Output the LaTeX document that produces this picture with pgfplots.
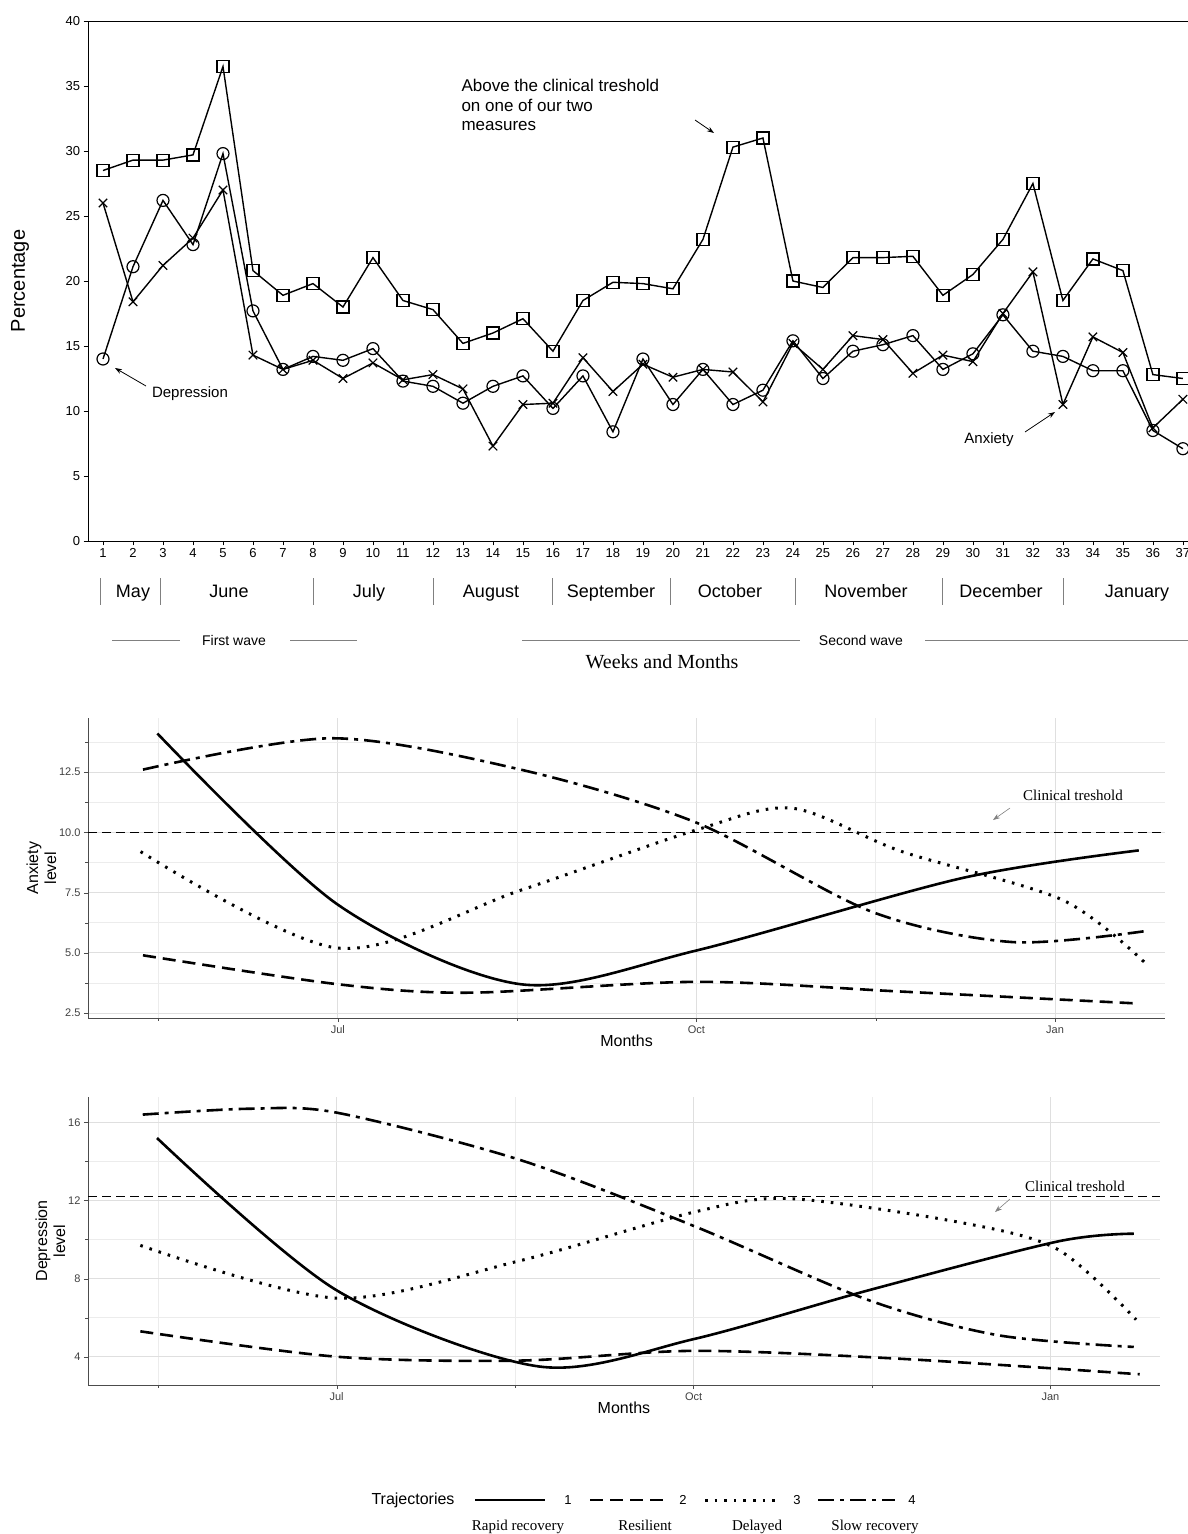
\documentclass[border=0pt]{standalone}
\usepackage{pgfplots}
\pgfplotsset{compat=1.18}
\usepackage{fontspec}
\setmainfont{Liberation Sans}
\newfontfamily\serif{Liberation Serif}
\usetikzlibrary{arrows.meta}
\tikzset{
 sol/.style={line width=2.6pt},
 dsh/.style={line width=2.6pt,dash pattern=on 13pt off 7pt},
 dot/.style={line width=3pt,dash pattern=on 2.6pt off 7pt},
 dsd/.style={line width=2.6pt,dash pattern=on 16pt off 6pt on 4pt off 6pt},
 arr/.style={-{Stealth[length=7pt,width=5pt]},line width=0.8pt}
}
\begin{document}
\begin{tikzpicture}
\useasboundingbox (0,0) rectangle (1188pt,-1534pt);
% ---------- top panel
\begin{axis}[at={(88pt,-541pt)},anchor=south west,scale only axis,width=1100pt,height=520pt,
 xmin=0.5,xmax=37.17,ymin=0,ymax=40,xtick={1,...,37},ytick={0,5,...,40},
 tick label style={font=\fontsize{13}{15}\selectfont},
 /pgf/number format/assume math mode=true,
 axis line style={line width=0.8pt},tick style={black,line width=0.6pt},
 tick align=outside,xtick pos=bottom,ytick pos=left]
\addplot[black,line width=1.4pt,mark=square,mark size=6pt,mark options={line width=1.2pt}] coordinates {
(1,28.5)(2,29.3)(3,29.3)(4,29.7)(5,36.5)(6,20.8)(7,18.9)(8,19.8)(9,18)(10,21.8)(11,18.5)(12,17.8)(13,15.2)(14,16)(15,17.1)(16,14.6)(17,18.5)(18,19.9)(19,19.8)(20,19.4)(21,23.2)(22,30.3)(23,31)(24,20)(25,19.5)(26,21.8)(27,21.8)(28,21.9)(29,18.9)(30,20.5)(31,23.2)(32,27.5)(33,18.5)(34,21.7)(35,20.8)(36,12.8)(37,12.5)};
\addplot[black,line width=1.4pt,mark=o,mark size=6pt,mark options={line width=1.2pt}] coordinates {
(1,14)(2,21.1)(3,26.2)(4,22.8)(5,29.8)(6,17.7)(7,13.2)(8,14.2)(9,13.9)(10,14.8)(11,12.3)(12,11.9)(13,10.6)(14,11.9)(15,12.7)(16,10.2)(17,12.7)(18,8.4)(19,14)(20,10.5)(21,13.2)(22,10.5)(23,11.6)(24,15.4)(25,12.5)(26,14.6)(27,15.1)(28,15.8)(29,13.2)(30,14.4)(31,17.4)(32,14.6)(33,14.2)(34,13.1)(35,13.1)(36,8.5)(37,7.1)};
\addplot[black,line width=1.4pt,mark=x,mark size=6pt,mark options={line width=1.2pt}] coordinates {
(1,26)(2,18.4)(3,21.2)(4,23.3)(5,27)(6,14.3)(7,13.2)(8,13.9)(9,12.5)(10,13.7)(11,12.4)(12,12.8)(13,11.7)(14,7.3)(15,10.5)(16,10.6)(17,14.1)(18,11.5)(19,13.6)(20,12.6)(21,13.2)(22,13)(23,10.7)(24,15.2)(25,13.2)(26,15.8)(27,15.5)(28,12.9)(29,14.3)(30,13.8)(31,17.5)(32,20.7)(33,10.5)(34,15.7)(35,14.5)(36,8.7)(37,10.9)};
\end{axis}
\node[rotate=90,font=\fontsize{20}{22}\selectfont] at (20pt,-281pt) {Percentage};
\node[anchor=north west,align=left,font=\fontsize{17}{19.5}\selectfont] at (458pt,-76pt) {Above the clinical treshold\\on one of our two\\measures};
\draw[arr] (695pt,-120pt) -- (714pt,-133pt);
\node[font=\fontsize{15}{17}\selectfont] at (190pt,-394pt) {Depression};
\draw[arr] (146pt,-386pt) -- (115pt,-368pt);
\node[font=\fontsize{15}{17}\selectfont] at (989pt,-440pt) {Anxiety};
\draw[arr] (1025pt,-432pt) -- (1055pt,-412pt);
\foreach \x/\m in {133/May,229/June,369/July,491/August,611/September,730/October,866/November,1001/December,1137/January}
  \node[anchor=base,font=\fontsize{18}{20}\selectfont] at (\x pt,-597pt) {\m};
\foreach \x in {100,160,313,433,552,670,795,942,1063}
  \draw[gray,line width=0.6pt] (\x pt,-578pt) -- (\x pt,-605pt);
\node[anchor=base,font=\fontsize{14}{16}\selectfont] at (234pt,-645pt) {First wave};
\draw[gray,line width=0.5pt] (112pt,-640pt) -- (180pt,-640pt) (290pt,-640pt) -- (357pt,-640pt);
\node[anchor=base,font=\fontsize{14}{16}\selectfont] at (861pt,-645pt) {Second wave};
\draw[gray,line width=0.5pt] (522pt,-640pt) -- (800pt,-640pt) (925pt,-640pt) -- (1188pt,-640pt);
\node[font=\serif\fontsize{20}{22}\selectfont] at (662pt,-662pt) {Weeks and Months};
% ---------- lower panels
\pgfplotsset{traj/.style={scale only axis,xmin=4.91,xmax=13.92,
 xtick={7,10,13},xticklabels={Jul,Oct,Jan},minor xtick={5.5,8.5,11.5},
 grid=both,major grid style={gray!25,line width=0.9pt},minor grid style={gray!15,line width=0.6pt},
 tick label style={font=\fontsize{11}{13}\selectfont,text=black!75},
 /pgf/number format/assume math mode=true,
 axis x line*=bottom,axis y line*=left,axis line style={line width=0.6pt,black!70},
 tick style={black!70},tick align=outside,major tick length=4pt,
 xlabel={Months},xlabel style={font=\fontsize{16}{18}\selectfont,yshift=6pt},
 ylabel style={font=\fontsize{16}{18}\selectfont,align=center,yshift=-4pt}}}
\begin{axis}[traj,at={(88pt,-1018pt)},anchor=south west,width=1077pt,height=300pt,
 ymin=2.3,ymax=14.74,ytick={2.5,5,7.5,10,12.5},minor ytick={3.75,6.25,8.75,11.25,13.75},
 yticklabels={2.5,5.0,7.5,10.0,12.5},ylabel={Anxiety\\level}]
\addplot[black,line width=0.8pt,dash pattern=on 9pt off 5pt] coordinates {(4.91,10)(13.92,10)};
\addplot[black,sol,smooth] coordinates {(5.49,14.1)(7,7)(8.53,3.7)(10,5.1)(12.22,8.1)(13.7,9.25)};
\addplot[black,dsh,smooth] coordinates {(5.37,4.9)(7,3.7)(8.1,3.35)(10,3.8)(11.7,3.4)(13.7,2.9)};
\addplot[black,dot,smooth] coordinates {(5.35,9.2)(7,5.2)(8.53,7.6)(10,10.1)(10.8,11)(11.72,9.2)(13.06,7.2)(13.75,4.6)};
\addplot[black,dsd,smooth] coordinates {(5.37,12.6)(6.95,13.9)(8.53,12.6)(10,10.4)(11.47,6.7)(12.64,5.45)(13.75,5.9)};
\end{axis}
\node[font=\serif\fontsize{15}{17}\selectfont] at (1073pt,-795pt) {Clinical treshold};
\draw[arr,gray,line width=0.6pt] (1010pt,-808pt) -- (993pt,-820pt);
\begin{axis}[traj,at={(88pt,-1385pt)},anchor=south west,width=1072pt,height=288pt,
 ymin=2.55,ymax=17.3,ytick={4,8,12,16},minor ytick={6,10,14},ylabel={Depression\\level}]
\addplot[black,line width=0.8pt,dash pattern=on 9pt off 5pt] coordinates {(4.91,12.2)(13.92,12.2)};
\addplot[black,sol,smooth] coordinates {(5.49,15.2)(7,7.4)(8.7,3.5)(10,4.9)(11.47,7.4)(13.06,9.9)(13.7,10.3)};
\addplot[black,dsh,smooth] coordinates {(5.35,5.3)(7,4.0)(8.53,3.8)(10,4.3)(11.72,3.9)(13.75,3.1)};
\addplot[black,dot,smooth] coordinates {(5.35,9.7)(7,7)(8.53,8.9)(10,11.4)(10.8,12.1)(12.22,10.9)(13.06,9.5)(13.72,5.9)};
\addplot[black,dsd,smooth] coordinates {(5.37,16.4)(6.27,16.7)(7,16.5)(8.53,14.1)(10,10.7)(11.47,6.9)(12.56,5.1)(13.7,4.5)};
\end{axis}
\node[font=\serif\fontsize{15}{17}\selectfont] at (1075pt,-1186pt) {Clinical treshold};
\draw[arr,gray,line width=0.6pt] (1010pt,-1199pt) -- (995pt,-1212pt);
% ---------- legend
\node[font=\fontsize{16}{18}\selectfont] at (413pt,-1500pt) {Trajectories};
\draw[black,sol] (475pt,-1500pt) -- (545pt,-1500pt);
\draw[black,dsh] (590pt,-1500pt) -- (665pt,-1500pt);
\draw[black,dot] (705pt,-1500pt) -- (780pt,-1500pt);
\draw[black,dsd] (818pt,-1500pt) -- (895pt,-1500pt);
\foreach \x/\n in {568/1,683/2,797/3,912/4} \node[font=\fontsize{13}{15}\selectfont] at (\x pt,-1500pt) {\n};
\foreach \x/\t in {518/Rapid recovery,645/Resilient,757/Delayed,875/Slow recovery}
  \node[anchor=base,font=\serif\fontsize{15}{17}\selectfont] at (\x pt,-1530pt) {\t};
\end{tikzpicture}
\end{document}
